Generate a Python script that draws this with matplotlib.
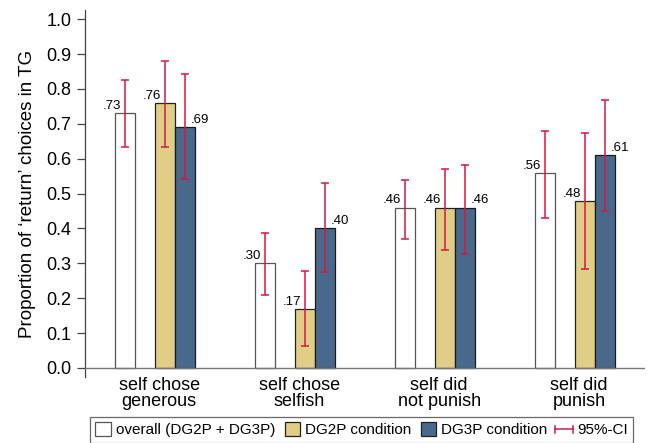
import numpy as np
import matplotlib
matplotlib.use("Agg")
import matplotlib.pyplot as plt
from matplotlib.patches import Patch
from matplotlib.lines import Line2D
from matplotlib.legend_handler import HandlerBase

plt.rcParams['font.family'] = ['Liberation Sans', 'DejaVu Sans']

groups = ["self chose\ngenerous", "self chose\nselfish", "self did\nnot punish", "self did\npunish"]
series = ["overall (DG2P + DG3P)", "DG2P condition", "DG3P condition"]

overall = [0.73, 0.30, 0.46, 0.56]
dg2p = [0.76, 0.17, 0.46, 0.48]
dg3p = [0.69, 0.40, 0.46, 0.61]

overall_lo = [0.634, 0.209, 0.369, 0.431]
overall_hi = [0.826, 0.386, 0.540, 0.680]
dg2p_lo = [0.634, 0.063, 0.337, 0.283]
dg2p_hi = [0.880, 0.277, 0.571, 0.674]
dg3p_lo = [0.543, 0.274, 0.326, 0.451]
dg3p_hi = [0.843, 0.529, 0.583, 0.769]

yticks = [0.0, 0.1, 0.2, 0.3, 0.4, 0.5, 0.6, 0.7, 0.8, 0.9, 1.0]

gold = "#E0CD86"
blue = "#48698B"
red = "#D01A48"

fig = plt.figure(figsize=(6.52, 4.43), dpi=100)
ax = fig.add_axes([0.1304, 0.149, 0.989 - 0.1304, 0.977 - 0.149])

x = np.arange(len(groups))
w = 0.1426

vals = [overall, dg2p, dg3p]
los = [overall_lo, dg2p_lo, dg3p_lo]
his = [overall_hi, dg2p_hi, dg3p_hi]
offs = [-1.5 * w, 0.5 * w, 1.5 * w]
faces = ["white", gold, blue]
edges = ["#555555", "#222222", "#1a1a1a"]

for v, lo, hi, off, fc, ec in zip(vals, los, his, offs, faces, edges):
    v = np.array(v)
    ax.bar(x + off, v, w, color=fc, edgecolor=ec, linewidth=0.9, zorder=2)
    yerr = [v - np.array(lo), np.array(hi) - v]
    ax.errorbar(x + off, v, yerr=yerr, fmt="none", ecolor=red, elinewidth=1.1,
                capsize=3.2, capthick=1.1, zorder=3)

# value labels
for i in range(len(groups)):
    for k, (v, off) in enumerate(zip(vals, offs)):
        lab = ("%.2f" % v[i])[1:]
        if k < 2:
            ax.text(x[i] + off - w / 2 - 0.02, v[i] + 0.003, lab, ha="center",
                    va="bottom", fontsize=9.5)
        else:
            ax.text(x[i] + off + w / 2 + 0.035, v[i] + 0.003, lab, ha="center",
                    va="bottom", fontsize=9.5)

ax.axhline(0, color="#777777", linewidth=1.0, zorder=4)
ax.set_xlim(-0.5, 3.5)
ax.set_ylim(-0.0258, 1.0258)
ax.set_yticks(yticks)
ax.set_yticklabels(["%.1f" % t for t in yticks], fontsize=13)
ax.tick_params(axis="y", length=6, width=0.9, color="#444444", pad=4)
ax.set_xticks(x + 0.03)
ax.set_xticklabels(groups, fontsize=13, linespacing=0.95)
ax.tick_params(axis="x", length=0, pad=0)
for s in ["top", "right", "bottom"]:
    ax.spines[s].set_visible(False)
ax.spines["left"].set_color("#444444")
ax.spines["left"].set_linewidth(0.9)
ax.set_ylabel("Proportion of \u2018return\u2019 choices in TG", fontsize=13.5, labelpad=7)


class CIHandler(HandlerBase):
    def create_artists(self, legend, orig_handle, xdescent, ydescent, width, height,
                       fontsize, trans):
        y = height / 2 - ydescent
        x0, x1 = -xdescent - 1, -xdescent + width + 1
        ln = Line2D([x0, x1], [y, y], color=red, lw=1.1, transform=trans)
        c0 = Line2D([x0, x0], [y - 2.5, y + 2.5], color=red, lw=1.1, transform=trans)
        c1 = Line2D([x1, x1], [y - 2.5, y + 2.5], color=red, lw=1.1, transform=trans)
        return [ln, c0, c1]


ci_handle = Line2D([], [], color=red)
handles = [Patch(facecolor="white", edgecolor="#555555", linewidth=0.9),
           Patch(facecolor=gold, edgecolor="#222222", linewidth=0.9),
           Patch(facecolor=blue, edgecolor="#222222", linewidth=0.9),
           ci_handle]
labels = series + ["95%-CI"]
leg = fig.legend(handles, labels, loc="upper left", bbox_to_anchor=(90 / 652, 1 - 417 / 443),
                 ncol=4, fontsize=11, frameon=True, fancybox=False, edgecolor="#444444",
                 handlelength=1.0, handleheight=1.0, handletextpad=0.35, columnspacing=0.6,
                 borderpad=0.35, borderaxespad=0,
                 handler_map={ci_handle: CIHandler()})
leg.get_frame().set_linewidth(0.9)

fig.savefig("out.png", dpi=100)
